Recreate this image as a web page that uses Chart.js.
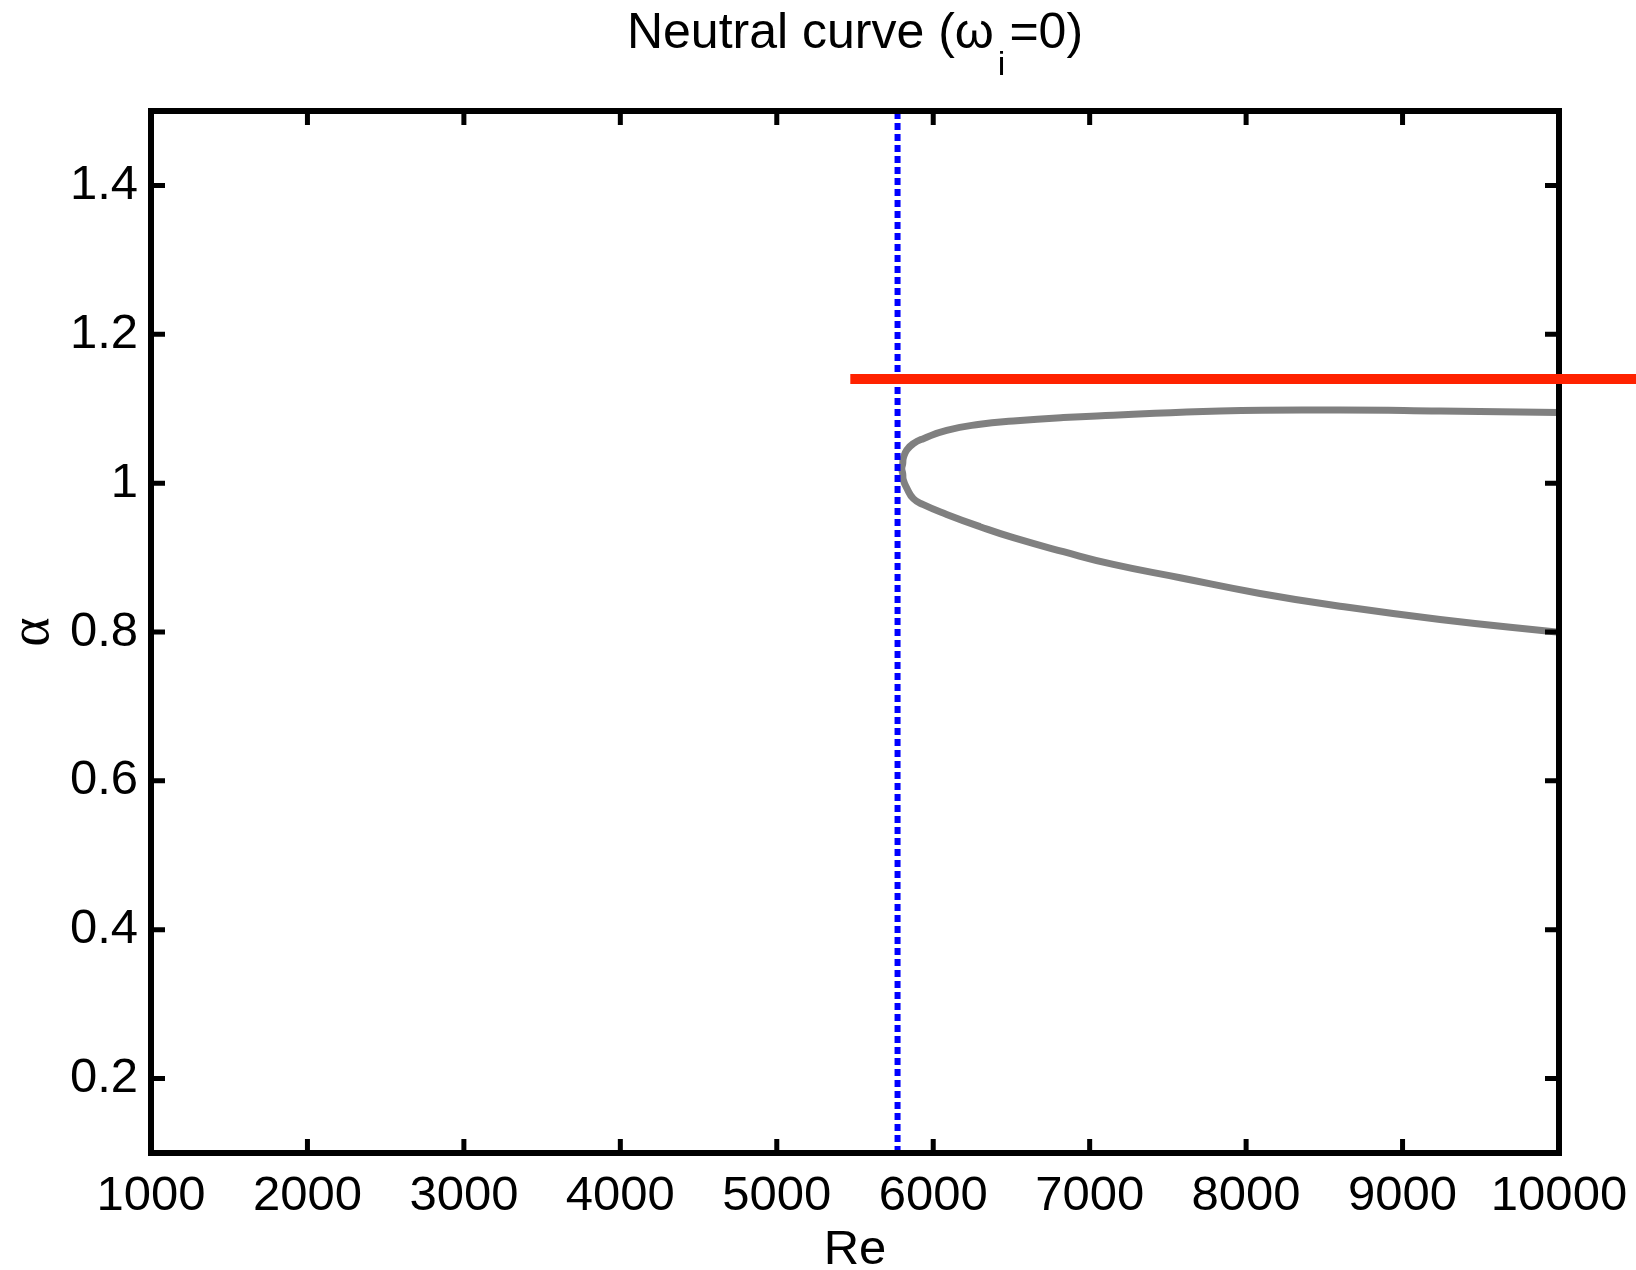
<!DOCTYPE html>
<html>
<head>
<meta charset="utf-8">
<script src="https://cdn.jsdelivr.net/npm/chart.js@4.4.1/dist/chart.umd.min.js"></script>
<style>
  html, body { margin: 0; padding: 0; background: #ffffff; }
  #wrap { width: 1636px; height: 1270px; position: relative; }
</style>
</head>
<body>
<div id="wrap"><canvas id="c" width="1636" height="1270"></canvas></div>
<script>
// ---- data ----
const xTicks = [1000, 2000, 3000, 4000, 5000, 6000, 7000, 8000, 9000, 10000];
const yTicks = [0.2, 0.4, 0.6, 0.8, 1.0, 1.2, 1.4];

// neutral curve, upper branch (from Re = 10000 back to the nose)
const upperRe    = [10000, 9240, 8600, 7833, 7151, 6832, 6512, 6299, 6086, 5937, 5873, 5831, 5809, 5805];
const upperAlpha = [1.0948, 1.097, 1.0983, 1.097, 1.0912, 1.0881, 1.0835, 1.0791, 1.071, 1.0598, 1.0531, 1.0445, 1.0338, 1.0262];
// nose
const noseRe = [5799];
const noseAlpha = [1.0195];
// lower branch (from the nose to Re = 10000)
const lowerRe    = [5805, 5809, 5831, 5873, 5937, 6086, 6299, 6512, 6832, 7151, 7578, 8089, 8600, 9240, 10000];
const lowerAlpha = [1.0128, 1.0042, 0.9934, 0.9792, 0.9711, 0.958, 0.9415, 0.9267, 0.9079, 0.8908, 0.8729, 0.8518, 0.8347, 0.8168, 0.7995];

// critical Reynolds number (blue dotted line)
const critRe = [5772, 5772];
const critAlpha = [0.1, 1.5];

// red horizontal line
const redRe = [5470, 11000];
const redAlpha = [1.14, 1.14];

// ---- build point lists ----
const zip = (xs, ys) => xs.map((x, i) => ({ x: x, y: ys[i] }));
const curvePts = zip(upperRe, upperAlpha)
  .concat(zip(noseRe, noseAlpha))
  .concat(zip(lowerRe, lowerAlpha));

const FONT = "'Liberation Sans', Arial, Helvetica, sans-serif";

const framePlugin = {
  id: 'frame',
  afterDatasetDraw(chart, args) {
    if (args.index !== 1) return;
    const ctx = chart.ctx;
    const a = chart.chartArea;
    const xs = chart.scales.x, ys = chart.scales.y;
    ctx.save();
    ctx.strokeStyle = '#000000';
    ctx.lineWidth = 6;
    ctx.lineCap = 'square';
    ctx.beginPath();
    ctx.rect(a.left, a.top, a.right - a.left, a.bottom - a.top);
    ctx.stroke();
    ctx.lineCap = 'butt';
    ctx.lineWidth = 5;
    const L = 14;
    ctx.beginPath();
    xTicks.forEach(v => {
      if (v <= xs.min || v >= xs.max) return;
      const p = xs.getPixelForValue(v);
      ctx.moveTo(p, a.bottom); ctx.lineTo(p, a.bottom - L);
      ctx.moveTo(p, a.top); ctx.lineTo(p, a.top + L);
    });
    yTicks.forEach(v => {
      if (v <= ys.min || v >= ys.max) return;
      const p = ys.getPixelForValue(v);
      ctx.moveTo(a.left, p); ctx.lineTo(a.left + L, p);
      ctx.moveTo(a.right, p); ctx.lineTo(a.right - L, p);
    });
    ctx.stroke();
    ctx.restore();
  },
  afterDraw(chart) {
    const ctx = chart.ctx;
    const a = chart.chartArea;
    ctx.save();
    ctx.fillStyle = '#000000';
    ctx.textBaseline = 'alphabetic';
    const mainFont = '50px ' + FONT;
    const subFont = '34px ' + FONT;
    const p1 = 'Neutral curve (\u03C9';
    const p2 = 'i';
    const p3 = '=0)';
    ctx.font = mainFont;
    const w1 = ctx.measureText(p1).width;
    const w3 = ctx.measureText(p3).width;
    ctx.font = subFont;
    const w2 = ctx.measureText(p2).width;
    const gap = 4;
    const total = w1 + gap + w2 + gap + w3;
    let x = (a.left + a.right) / 2 - total / 2;
    const base = 48;
    ctx.textAlign = 'left';
    ctx.font = mainFont;
    ctx.fillText(p1, x, base);
    x += w1 + gap;
    ctx.font = subFont;
    ctx.fillText(p2, x, base + 27);
    x += w2 + gap;
    ctx.font = mainFont;
    ctx.fillText(p3, x, base);
    ctx.restore();
  }
};

new Chart(document.getElementById('c'), {
  type: 'scatter',
  data: {
    datasets: [
      {
        label: 'red',
        data: zip(redRe, redAlpha),
        showLine: true,
        borderColor: '#ff2200',
        borderWidth: 10,
        borderCapStyle: 'butt',
        pointRadius: 0,
        clip: false
      },
      {
        label: 'critical',
        data: zip(critRe, critAlpha),
        showLine: true,
        borderColor: '#0000ff',
        borderWidth: 6,
        borderDash: [7, 4],
        borderCapStyle: 'butt',
        pointRadius: 0
      },
      {
        label: 'neutral',
        data: curvePts,
        showLine: true,
        borderColor: '#808080',
        borderWidth: 7,
        borderJoinStyle: 'round',
        tension: 0.5,
        pointRadius: 0
      }
    ]
  },
  options: {
    responsive: false,
    animation: false,
    events: [],
    layout: { padding: { top: 111, right: 77, left: 0, bottom: 0 } },
    plugins: {
      legend: { display: false },
      title: { display: false },
      tooltip: { enabled: false }
    },
    scales: {
      x: {
        type: 'linear',
        min: 1000,
        max: 10000,
        grid: { display: false, drawTicks: false },
        border: { display: false },
        afterBuildTicks: s => { s.ticks = xTicks.map(v => ({ value: v })); },
        afterFit: s => { s.height = 117; s.paddingRight = 0; s.paddingLeft = 0; },
        ticks: {
          color: '#000000',
          font: { family: FONT, size: 49 },
          padding: 14,
          maxRotation: 0,
          autoSkip: false,
          callback: v => String(v)
        },
        title: {
          display: true,
          text: 'Re',
          color: '#000000',
          font: { family: FONT, size: 49, lineHeight: 0.8 },
          padding: { top: 0, bottom: 0 }
        }
      },
      y: {
        type: 'linear',
        min: 0.1,
        max: 1.5,
        grid: { display: false, drawTicks: false },
        border: { display: false },
        afterBuildTicks: s => { s.ticks = yTicks.map(v => ({ value: v })); },
        afterFit: s => { s.width = 151; s.paddingTop = 0; s.paddingBottom = 0; },
        ticks: {
          color: '#000000',
          font: { family: FONT, size: 49 },
          padding: 13,
          autoSkip: false,
          callback: v => String(Math.round(v * 10) / 10)
        },
        title: {
          display: true,
          text: '\u03B1',
          color: '#000000',
          font: { family: "'Liberation Serif', 'DejaVu Serif', serif", size: 56, lineHeight: 1 },
          padding: { top: 5, bottom: 0 }
        }
      }
    }
  },
  plugins: [framePlugin]
});
</script>
</body>
</html>
